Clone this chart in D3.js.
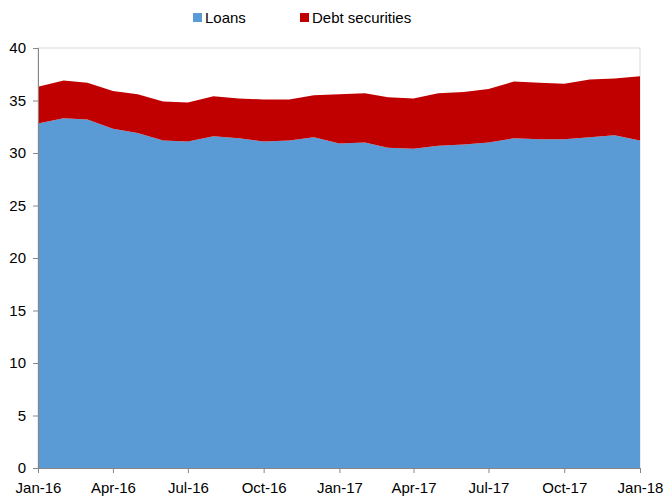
<!DOCTYPE html>
<html>
<head>
<meta charset="utf-8">
<script src="https://cdn.jsdelivr.net/npm/d3@7"></script>
<style>
  body { margin: 0; background: #fff; }
  text { font-family: "Liberation Sans", Arial, sans-serif; }
</style>
</head>
<body>
<div id="chart"></div>
<script>
// monthly, Jan-16 .. Jan-18
var months = d3.range(25).map(function(i){ return new Date(2016, i, 1); });
var loans = [32.8, 33.3, 33.2, 32.3, 31.9, 31.2, 31.1, 31.6, 31.4, 31.1, 31.2, 31.5, 30.9,
             31.0, 30.5, 30.4, 30.7, 30.8, 31.0, 31.4, 31.3, 31.3, 31.5, 31.7, 31.2];
var debt = [3.5, 3.6, 3.5, 3.6, 3.7, 3.7, 3.7, 3.8, 3.8, 4.0, 3.9, 4.0, 4.7,
            4.7, 4.8, 4.8, 5.0, 5.0, 5.1, 5.4, 5.4, 5.3, 5.5, 5.4, 6.1];
var seriesNames = ["Loans", "Debt securities"];
var colors = ["#5B9BD5", "#C00000"];
var yTicks = [0, 5, 10, 15, 20, 25, 30, 35, 40];

var width = 664, height = 497;
var margin = {top: 48, right: 24, bottom: 29, left: 38};

var svg = d3.select("#chart").append("svg")
    .attr("width", width)
    .attr("height", height);

var x = d3.scaleTime()
    .domain([months[0], months[24]])
    .range([margin.left, width - margin.right]);
var y = d3.scaleLinear()
    .domain([0, 40])
    .range([height - margin.bottom, margin.top]);

var rows = months.map(function(m, i){ return {date: m, Loans: loans[i], "Debt securities": debt[i]}; });
var stacked = d3.stack().keys(seriesNames)(rows);

//plot border
svg.append("rect")
    .attr("x", margin.left)
    .attr("y", margin.top)
    .attr("width", width - margin.right - margin.left)
    .attr("height", height - margin.bottom - margin.top)
    .attr("fill", "none")
    .attr("stroke", "#d9d9d9");

var area = d3.area()
    .x(function(d){ return x(d.data.date); })
    .y0(function(d){ return y(d[0]); })
    .y1(function(d){ return y(d[1]); });

svg.selectAll("path.layer")
    .data(stacked)
    .enter()
    .append("path")
    .attr("class", "layer")
    .attr("d", area)
    .attr("fill", function(d, i){ return colors[i]; });

//y axis
var yAxis = svg.append("g")
    .attr("transform", "translate(" + margin.left + ",0)")
    .call(d3.axisLeft(y).tickValues(yTicks).tickSize(5).tickPadding(7));
yAxis.selectAll("text").attr("font-size", 15).attr("fill", "#000")
    .style("font-family", "'Liberation Sans', Arial, sans-serif");
yAxis.selectAll("line,path").attr("stroke", "#868686");

//x axis
var xAxis = svg.append("g")
    .attr("transform", "translate(0," + (height - margin.bottom) + ")")
    .call(d3.axisBottom(x)
        .tickValues(months.filter(function(d, i){ return i % 3 === 0; }))
        .tickFormat(d3.timeFormat("%b-%y"))
        .tickSize(5).tickPadding(9).tickSizeOuter(0));
xAxis.selectAll("text").attr("font-size", 15).attr("fill", "#000")
    .style("font-family", "'Liberation Sans', Arial, sans-serif");
xAxis.selectAll("line,path").attr("stroke", "#868686");

//legend
var legendX = [193, 300];
var legend = svg.selectAll("g.legend")
    .data(seriesNames)
    .enter()
    .append("g")
    .attr("class", "legend")
    .attr("transform", function(d, i){ return "translate(" + legendX[i] + ",18)"; });
legend.append("rect")
    .attr("x", 0).attr("y", -5)
    .attr("width", 9).attr("height", 9)
    .attr("fill", function(d, i){ return colors[i]; });
legend.append("text")
    .attr("x", 12).attr("y", 0)
    .attr("dy", "0.35em")
    .attr("font-size", 15)
    .text(function(d){ return d; });
</script>
</body>
</html>
